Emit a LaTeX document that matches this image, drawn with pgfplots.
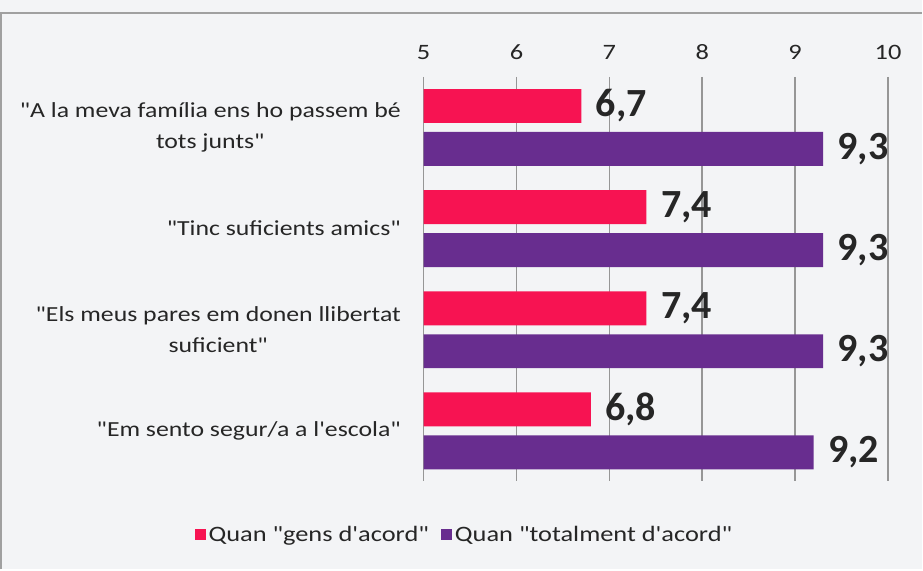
\documentclass[border=0pt]{standalone}
\usepackage{fontspec}
\setmainfont{Carlito}[FakeStretch=1.2, Ligatures=TeXOff]
\newfontfamily\valfont{Carlito}[Ligatures=TeXOff]
\usepackage{pgfplots}
\pgfplotsset{compat=1.18}
\definecolor{bgGrey}{RGB}{243,244,246}
\definecolor{frameGrey}{RGB}{160,160,160}
\definecolor{gridGrey}{RGB}{150,150,150}
\definecolor{barPink}{RGB}{247,19,82}
\definecolor{barPurple}{RGB}{104,45,143}
\definecolor{txt}{RGB}{38,38,38}
\begin{document}
\begin{tikzpicture}[x=1pt,y=1pt]
\fill[bgGrey] (0,0) rectangle (923,570);
\draw[frameGrey,line width=2pt] (1.5,0) -- (1.5,557) -- (923,557);
\begin{axis}[
  at={(424pt,88pt)}, anchor=south west,
  scale only axis, width=465pt, height=405pt,
  xbar, bar width=34pt,
  xmin=5, xmax=10, xtick={5,6,7,8,9,10},
  ymin=-0.5, ymax=3.5, y dir=reverse,
  ytick={0,1,2,3},
  yticklabels={{"A la meva família ens ho passem bé\\tots junts"},
               {"Tinc suficients amics"},
               {"Els meus pares em donen llibertat\\suficient"},
               {"Em sento segur/a a l'escola"}},
  yticklabel style={align=center, font=\fontsize{21.5}{31}\selectfont, text=txt, xshift=-15pt},
  xticklabel pos=upper,
  xticklabel style={font=\fontsize{22}{22}\selectfont, text=txt, yshift=14pt},
  /pgf/number format/assume math mode=true,
  axis line style={draw=none},
  major tick style={draw=none},
  xmajorgrids, grid style={gridGrey, line width=1.5pt},
  nodes near coords={\pgfmathprintnumber[use comma,fixed,fixed zerofill,precision=1]{\pgfplotspointmeta}},
  nodes near coords style={font=\valfont\fontsize{40}{40}\selectfont\bfseries, text=txt, anchor=west, xshift=11pt},
  legend style={at={(0.088,-0.131)}, anchor=center, draw=none, fill=none,
    font=\fontsize{22}{22}\selectfont, text=txt, legend columns=2,
    /tikz/every odd column/.append style={column sep=1pt},
    /tikz/every even column/.append style={column sep=10pt}},
  legend image code/.code={\fill[#1] (0pt,-5.5pt) rectangle (11pt,5.5pt);},
]
\addplot[fill=barPink, draw=none, bar shift=21.5pt] coordinates {(6.7,0) (7.4,1) (7.4,2) (6.8,3)};
\addplot[fill=barPurple, draw=none, bar shift=-21.5pt] coordinates {(9.3,0) (9.3,1) (9.3,2) (9.2,3)};
\legend{Quan "gens d'acord",Quan "totalment d'acord"}
\end{axis}
\end{tikzpicture}
\end{document}
